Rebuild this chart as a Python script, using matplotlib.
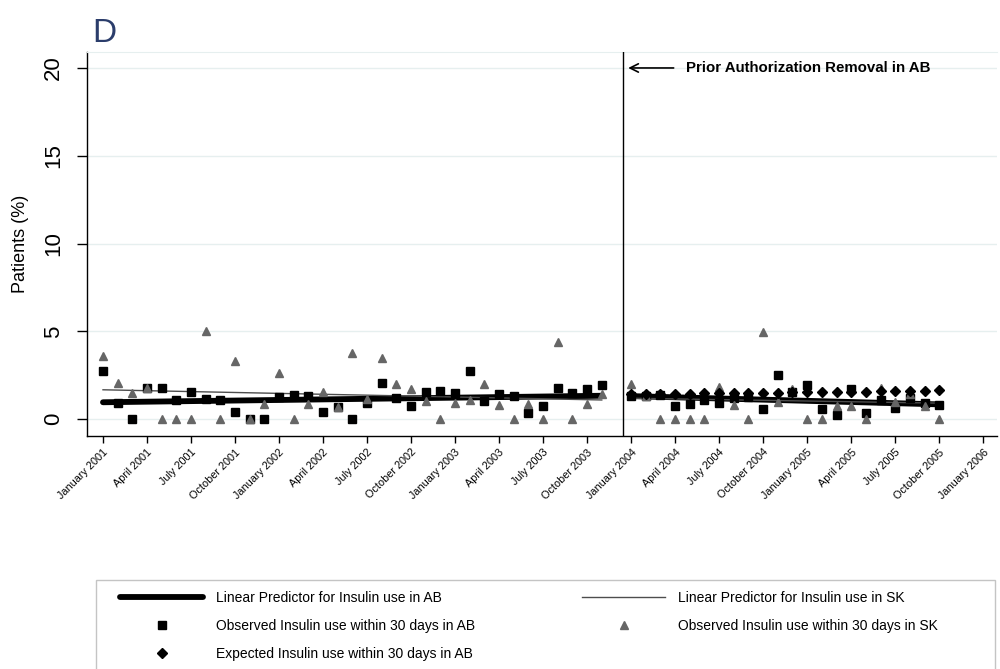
import matplotlib
matplotlib.use("Agg")
import matplotlib.pyplot as plt
from matplotlib.patches import Rectangle

plt.rcParams["font.family"] = ["Liberation Sans", "DejaVu Sans"]

# Month index: 0 = January 2001
months_pre = list(range(0, 35))
months_post = list(range(36, 58))

# Observed monthly insulin use within 30 days (%)
ab_obs_pre = [2.73, 0.92, 0.00, 1.77, 1.81, 1.10, 1.55, 1.15, 1.10, 0.40,
              0.00, 0.00, 1.29, 1.39, 1.35, 0.40, 0.68, 0.00, 0.92, 2.06,
              1.20, 0.78, 1.55, 1.60, 1.50, 2.77, 1.03, 1.43, 1.30, 0.36,
              0.76, 1.81, 1.49, 1.70, 1.96]
sk_obs_pre = [3.62, 2.06, 1.52, 1.77, 0.00, 0.00, 0.00, 5.00, 0.00, 3.34,
              0.00, 0.86, 2.61, 0.00, 0.86, 1.55, 0.72, 3.76, 1.14, 3.47,
              2.02, 1.73, 1.07, 0.00, 0.93, 1.12, 2.00, 0.82, 0.00, 0.86,
              0.00, 4.41, 0.00, 0.86, 1.45]
ab_obs_post = [1.35, 1.35, 1.40, 0.76, 0.88, 1.10, 0.92, 1.20, 1.25, 0.61,
               2.50, 1.56, 1.95, 0.57, 0.26, 1.70, 0.38, 1.10, 0.63, 1.20,
               0.90, 0.80]
sk_obs_post = [2.00, 1.30, 0.00, 0.00, 0.00, 0.00, 1.85, 0.84, 0.00, 4.98,
               0.99, 1.75, 0.00, 0.00, 0.74, 0.78, 0.00, 1.78, 1.00, 1.45,
               0.76, 0.00]
ab_expected_post = [1.43, 1.44, 1.45, 1.45, 1.46, 1.47, 1.48, 1.49, 1.50, 1.51,
                    1.52, 1.53, 1.54, 1.55, 1.56, 1.57, 1.58, 1.59, 1.60, 1.61,
                    1.62, 1.64]

# Segmented linear predictors (segment end points)
fit_months_pre = [0, 34]
fit_months_post = [36, 57]
ab_fit_pre = [0.97, 1.34]
ab_fit_post = [1.32, 0.85]
sk_fit_pre = [1.68, 1.10]
sk_fit_post = [1.20, 0.92]

intervention_month = 35.45

tick_months = list(range(0, 61, 3))
tick_labels = [f"{m} {y}" for y in range(2001, 2007)
               for m in ("January", "April", "July", "October")][:len(tick_months)]
y_ticks = [0, 5, 10, 15, 20]

fig = plt.figure(figsize=(10, 6.69), dpi=100)
ax = fig.add_axes([0.087, 0.3483, 0.91, 0.5740])

grid_col = "#e6efef"
for yv in y_ticks:
    ax.axhline(yv, color=grid_col, lw=1.0, zorder=0)

line_ab, = ax.plot(fit_months_pre, ab_fit_pre, color="black", lw=4.2,
                   solid_capstyle="round", zorder=2)
ax.plot(fit_months_post, ab_fit_post, color="black", lw=4.2,
        solid_capstyle="round", zorder=2)
line_sk, = ax.plot(fit_months_pre, sk_fit_pre, color="#4d4d4d", lw=1.0, zorder=2.5)
ax.plot(fit_months_post, sk_fit_post, color="#4d4d4d", lw=1.0, zorder=2.5)

sq, = ax.plot(months_pre + months_post, ab_obs_pre + ab_obs_post, ls="none",
              marker="s", ms=5.4, color="black", zorder=3)
tri, = ax.plot(months_pre + months_post, sk_obs_pre + sk_obs_post, ls="none",
               marker="^", ms=6.2, color="#666666", mec="#666666", zorder=3.2)
dia, = ax.plot(months_post, ab_expected_post, ls="none", marker="D", ms=4.8,
               color="black", zorder=3.4)

ax.axvline(intervention_month, color="black", lw=1.0, zorder=4)
ax.annotate("", xy=(35.8, 20), xytext=(38.9, 20),
            arrowprops=dict(arrowstyle="->,head_length=0.6,head_width=0.3",
                            color="black", lw=1.2, shrinkA=0, shrinkB=0))
ax.text(39.74, 20, "Prior Authorization Removal in AB", fontsize=10.8,
        fontweight="bold", va="center", ha="left")

ax.set_xlim(-1.09, 60.94)
ax.set_ylim(-0.95, 20.91)
ax.set_yticks(y_ticks)
ax.set_yticklabels([str(v) for v in y_ticks], rotation=90, va="center",
                   fontsize=16)
ax.set_xticks(tick_months)
ax.set_xticklabels(tick_labels, rotation=45, ha="right", va="top",
                   rotation_mode="anchor", fontsize=7.8)
ax.tick_params(axis="y", length=7.5, width=1.0, pad=9)
ax.tick_params(axis="x", length=5, width=1.0, pad=3)
ax.set_ylabel("Patients (%)", fontsize=13)
ax.yaxis.set_label_coords(-0.064, 0.5)

for side in ("left", "bottom"):
    ax.spines[side].set_linewidth(1.0)
ax.spines["top"].set_color(grid_col)
ax.spines["right"].set_visible(False)

fig.text(0.092, 1 - 42 / 669, "D", fontsize=24, color="#2b3d6b", va="baseline")

# Legend panel
fig.add_artist(Rectangle((0.096, -0.02), 0.899, 1 - 580 / 669 + 0.02,
                         transform=fig.transFigure, fill=False,
                         edgecolor="#c4c4c4", lw=1.0))
fig.legend([line_ab, sq, dia, line_sk, tri],
           ["Linear Predictor for Insulin use in AB",
            "Observed Insulin use within 30 days in AB",
            "Expected Insulin use within 30 days in AB",
            "Linear Predictor for Insulin use in SK",
            "Observed Insulin use within 30 days in SK"],
           ncol=2, loc="upper left", bbox_to_anchor=(0.12, 1 - 591 / 669),
           borderaxespad=0, borderpad=0, frameon=False, fontsize=10,
           handlelength=6.0, handletextpad=0.9, columnspacing=7.7,
           labelspacing=1.0, markerscale=1.0)

fig.savefig("out.png", dpi=100)
